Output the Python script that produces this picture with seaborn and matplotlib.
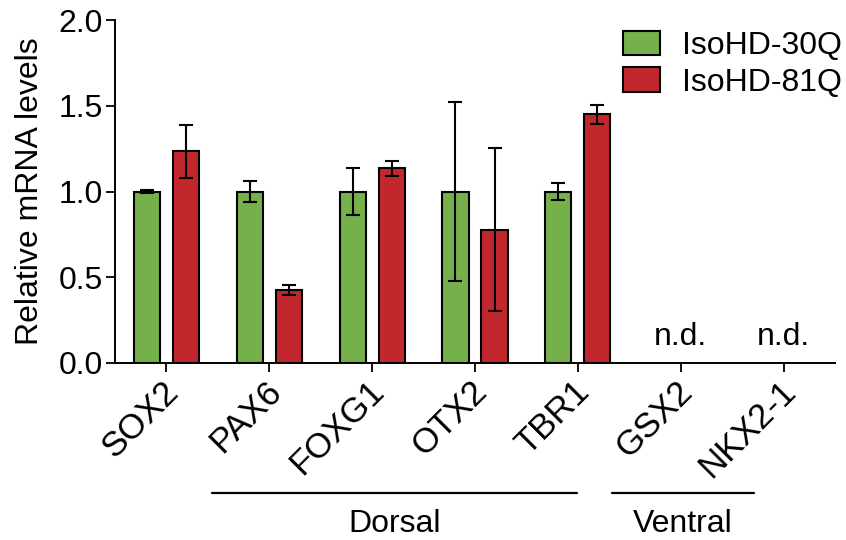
import numpy as np
import pandas as pd
import matplotlib
matplotlib.use("Agg")
import matplotlib.pyplot as plt
import matplotlib.transforms as mtransforms
import seaborn as sns

genes = ["SOX2", "PAX6", "FOXG1", "OTX2", "TBR1", "GSX2", "NKX2-1"]
groups = ["IsoHD-30Q", "IsoHD-81Q"]
mean_30q = [1.00, 1.00, 1.00, 1.00, 1.00, np.nan, np.nan]
err_30q = [0.01, 0.06, 0.138, 0.522, 0.05, np.nan, np.nan]
mean_81q = [1.235, 0.425, 1.135, 0.778, 1.45, np.nan, np.nan]
err_81q = [0.155, 0.027, 0.045, 0.476, 0.055, np.nan, np.nan]
not_detected = ["GSX2", "NKX2-1"]
region_names = ["Dorsal", "Ventral"]
colors = ["#75B04A", "#C1272D"]
yticks = [0.0, 0.5, 1.0, 1.5, 2.0]

df = pd.DataFrame({
    "gene": genes * 2,
    "line": [groups[0]] * len(genes) + [groups[1]] * len(genes),
    "value": mean_30q + mean_81q,
    "err": err_30q + err_81q,
})

sns.set_theme(style="ticks")
plt.rcParams["font.family"] = ["Liberation Sans", "DejaVu Sans"]
plt.rcParams.update({"text.color": "black", "axes.labelcolor": "black",
                     "xtick.color": "black", "ytick.color": "black",
                     "axes.edgecolor": "black"})
FS = 23

fig = plt.figure(figsize=(8.46, 5.40), dpi=100)
ax = fig.add_axes([115 / 846, 1 - 363 / 540, 720 / 846, 343 / 540])

sns.barplot(data=df, x="gene", y="value", hue="line", order=genes,
            hue_order=groups, palette=colors, errorbar=None,
            width=0.76, gap=0.33, edgecolor="black", linewidth=1.5,
            saturation=1, ax=ax)

# error bars from the data, positioned on the drawn bars
for cont, grp in zip(ax.containers, groups):
    sub = df[df["line"] == grp].set_index("gene")
    for bar in cont:
        h = bar.get_height()
        if not np.isfinite(h):
            continue
        xc = bar.get_x() + bar.get_width() / 2
        g = genes[int(round(xc))]
        ax.errorbar(xc, sub.loc[g, "value"], yerr=sub.loc[g, "err"],
                    color="black", capsize=4.8, elinewidth=1.5,
                    capthick=1.5, zorder=5)

for g in not_detected:
    ax.text(genes.index(g), 0.105, "n.d.", ha="center", va="baseline",
            fontsize=FS)

ax.set_xlim(-0.5, len(genes) - 0.5)
ax.set_ylim(0, 2.0)
ax.set_yticks(yticks)
ax.set_yticklabels([f"{t:.1f}" for t in yticks], fontsize=FS)
ax.set_xticks(range(len(genes)))
ax.set_xticklabels(genes, fontsize=25, rotation=45, ha="right",
                   rotation_mode="anchor")
ax.set_xlabel("")
ax.set_ylabel("Relative mRNA levels", fontsize=FS, labelpad=10)
ax.tick_params(axis="both", length=6.5, width=1.3)
ax.tick_params(axis="y", pad=2)
ax.tick_params(axis="x", pad=4)
# shift rotated gene labels (after tick_params, which resets transforms)
offset = mtransforms.ScaledTranslation(-5 / 100, 3 / 100, fig.dpi_scale_trans)
for lab in ax.get_xticklabels():
    lab.set_transform(lab.get_transform() + offset)
sns.despine(ax=ax)
for s in ["left", "bottom"]:
    ax.spines[s].set_linewidth(1.4)

# region brackets
trans = mtransforms.blended_transform_factory(ax.transData, ax.transAxes)
spans = [(0.44, 3.99), (4.33, 5.71)]
for (x0, x1), name in zip(spans, region_names):
    ax.plot([x0, x1], [-0.379, -0.379], color="black", lw=1.6,
            transform=trans, clip_on=False)
    ax.text((x0 + x1) / 2, -0.493, name, ha="center", va="baseline",
            fontsize=FS, transform=trans)

leg = ax.legend(loc="upper left", bbox_to_anchor=((623 - 115) / 720, 0.968),
                frameon=False, fontsize=FS, handlelength=1.16,
                handleheight=0.78, handletextpad=0.69, labelspacing=0.2,
                borderpad=0, borderaxespad=0)
for h in leg.legend_handles:
    h.set_edgecolor("black")
    h.set_linewidth(1.5)

fig.savefig("out.png", dpi=100)
